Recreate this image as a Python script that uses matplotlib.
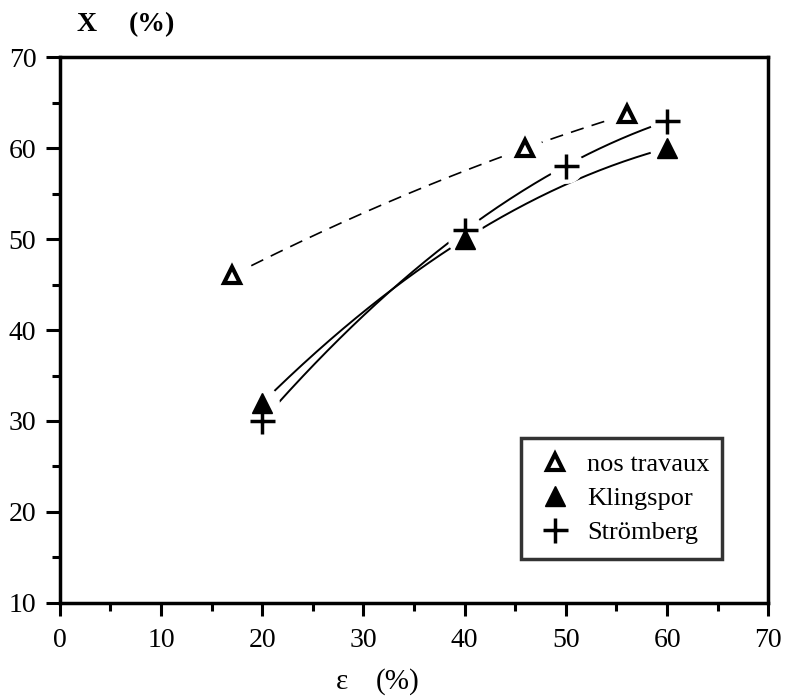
import numpy as np
import matplotlib
matplotlib.use("Agg")
import matplotlib.pyplot as plt
from matplotlib.ticker import MultipleLocator

# Data
nos_x = [17, 46, 56]
nos_y = [46, 60, 63.7]
kling_x = [20, 40, 60]
kling_y = [32, 50, 60]
strom_x = [20, 40, 50, 60]
strom_y = [30, 51, 58, 63]

xticks = [0, 10, 20, 30, 40, 50, 60, 70]
yticks = [10, 20, 30, 40, 50, 60, 70]

plt.rcParams['font.family'] = ['Liberation Serif', 'DejaVu Serif']

fig = plt.figure(figsize=(7.88, 6.97), dpi=100)
ax = fig.add_axes([0.076, 0.135, 0.899, 0.783])

def fit_curve(x, y, deg=2):
    c = np.polyfit(x, y, deg)
    xs = np.linspace(min(x), max(x), 300)
    return xs, np.polyval(c, xs)

xs, ys = fit_curve(nos_x, nos_y)
ax.plot(xs, ys, color='black', lw=1.2, ls=(0, (8, 5)), zorder=2)
xs, ys = fit_curve(kling_x, kling_y)
ax.plot(xs, ys, color='black', lw=1.4, zorder=2)
xs, ys = fit_curve(strom_x, strom_y)
ax.plot(xs, ys, color='black', lw=1.4, zorder=2)

# white halos to create gaps near markers
for x, y in [(nos_x, nos_y), (kling_x, kling_y), (strom_x, strom_y)]:
    ax.plot(x, y, ls='none', marker='o', ms=24, mfc='white', mec='white', zorder=3)

ax.plot(nos_x, nos_y, ls='none', marker='^', ms=12, mfc='white', mec='black', mew=3, zorder=4, label='nos travaux')
ax.plot(kling_x, kling_y, ls='none', marker='^', ms=15, mfc='black', mec='black', zorder=4, label='Klingspor')
ax.plot(strom_x, strom_y, ls='none', marker='+', ms=18, mec='black', mew=2.5, zorder=5, label='Strömberg')

ax.set_xlim(0, 70)
ax.set_ylim(10, 70)
ax.set_xticks(xticks)
ax.set_yticks(yticks)
ax.xaxis.set_minor_locator(MultipleLocator(5))
ax.yaxis.set_minor_locator(MultipleLocator(5))
ax.tick_params(which='major', labelsize=20)
ax.tick_params(which='minor', direction='out', length=6, width=2.2)
ax.tick_params(axis='x', which='major', direction='out', length=9, width=2.2, pad=9)
ax.tick_params(axis='y', which='major', direction='out', length=10, width=2.2, pad=7)
for s in ax.spines.values():
    s.set_linewidth(2.5)

fig.text(0.110, 0.965, 'X', fontsize=20, fontweight='bold', ha='center', va='center')
fig.text(0.193, 0.965, '(%)', fontsize=20, fontweight='bold', ha='center', va='center')
fig.text(0.434, 0.022, 'ε', fontsize=21, ha='center', va='center')
fig.text(0.505, 0.022, '(%)', fontsize=21, ha='center', va='center')

leg = ax.legend(loc='lower left', bbox_to_anchor=(0.651, 0.081, 0.284, 0.234), mode='expand',
                frameon=True, fancybox=False, edgecolor='black', fontsize=19,
                handletextpad=0.45, borderpad=0.55, labelspacing=0.4, handlelength=1.5,
                borderaxespad=0)
leg.get_frame().set_linewidth(2.5)

fig.savefig('out.png', dpi=100)
